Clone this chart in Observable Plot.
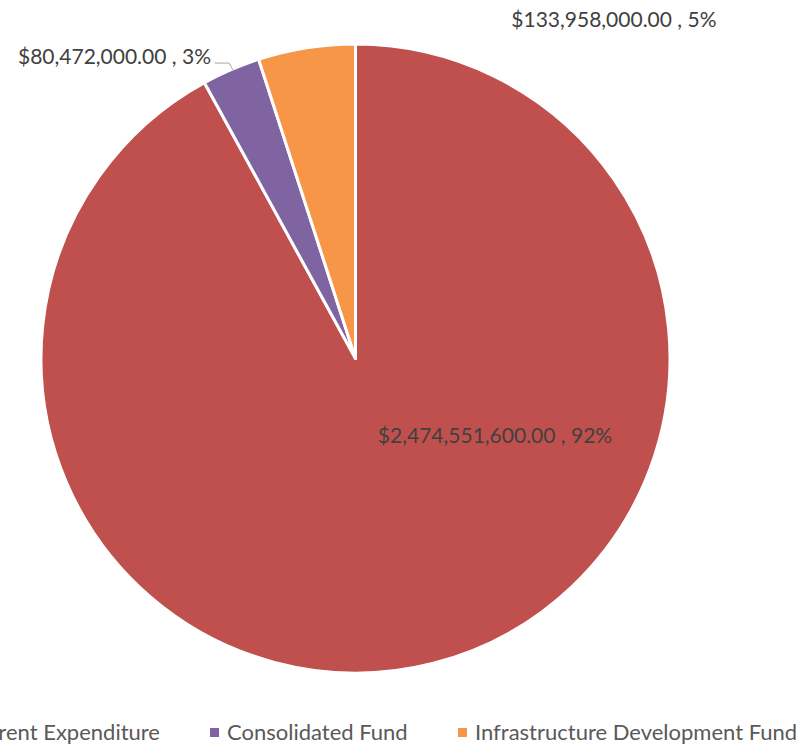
<!DOCTYPE html>
<html>
<head>
<meta charset="utf-8">
<script src="https://cdn.jsdelivr.net/npm/d3@7"></script>
<script src="https://cdn.jsdelivr.net/npm/@observablehq/plot@0.6"></script>
<style>
  html, body { margin: 0; padding: 0; background: #fff; overflow: hidden; }
  #wrap { position: relative; width: 801px; height: 745px; }
  #legend { position: relative; width: 801px; height: 40px; font-family: Lato, "Open Sans", sans-serif; font-size: 22px; color: #595959; }
  .item { position: absolute; top: 14px; white-space: nowrap; line-height: 26px; }
  .sw { display: inline-block; width: 9px; height: 9px; margin-right: 8px; vertical-align: 3px; }
</style>
</head>
<body>
<div id="wrap">
  <div id="chart"></div>
  <div id="legend"></div>
</div>
<script>
const categories = ["Recurrent Expenditure", "Consolidated Fund", "Infrastructure Development Fund"];
const values = [2474551600, 80472000, 133958000];
const colors = ["#C0504D", "#8064A2", "#F79646"];

// label layout (data units, pie radius = 1, centre at 0,0)
const labelPos = [[0.442, -0.246], [-0.768, 0.959], [0.820, 1.076]];
const leader = [[-0.448, 0.941], [-0.404, 0.941], [-0.391, 0.919]];

const total = d3.sum(values);
const data = categories.map((c, i) => ({
  category: c,
  value: values[i],
  pct: values[i] / total,
  label: "$" + d3.format(",.2f")(values[i]) + " , " + d3.format(".0%")(values[i] / total),
  lx: labelPos[i][0],
  ly: labelPos[i][1]
}));

const arcs = d3.pie().sort(null).value(d => d.value)(data);

const W = 801, H = 705;
const cx = 355.5, cy = 358.5, R = 314.5;

function pieMark(index, scales) {
  const x0 = scales.x(0), y0 = scales.y(0);
  const r = scales.x(1) - scales.x(0);
  const arc = d3.arc().innerRadius(0).outerRadius(r);
  const g = d3.create("svg:g").attr("transform", `translate(${x0},${y0})`);
  g.selectAll("path")
    .data(arcs)
    .join("path")
    .attr("d", arc)
    .attr("fill", d => scales.color(d.data.category))
    .attr("stroke", "#fff")
    .attr("stroke-width", 3)
    .attr("stroke-linejoin", "round");
  return g.node();
}

const chart = Plot.plot({
  width: W,
  height: H,
  margin: 0,
  x: { domain: [(0 - cx) / R, (W - cx) / R], range: [0, W], axis: null },
  y: { domain: [-(H - cy) / R, cy / R], range: [H, 0], axis: null },
  color: { domain: categories, range: colors },
  style: { background: "#fff" },
  marks: [
    pieMark,
    Plot.line(leader, { x: d => d[0], y: d => d[1], stroke: "#a6a6a6", strokeWidth: 1 }),
    Plot.text(data, {
      x: "lx", y: "ly", text: "label",
      fill: "#404040",
      fontSize: 21,
      fontFamily: "Lato, 'Open Sans', sans-serif",
      textAnchor: "middle"
    })
  ]
});
document.getElementById("chart").appendChild(chart);

// legend
const legend = document.getElementById("legend");
const legendPos = [{ right: 801 - 160 }, { left: 210 }, { left: 458 }];
categories.forEach((c, i) => {
  const it = document.createElement("div");
  it.className = "item";
  const p = legendPos[i];
  if (p.left !== undefined) it.style.left = p.left + "px";
  else it.style.right = p.right + "px";
  it.innerHTML = `<span class="sw" style="background:${colors[i]}"></span>${c}`;
  legend.appendChild(it);
});
</script>
</body>
</html>
